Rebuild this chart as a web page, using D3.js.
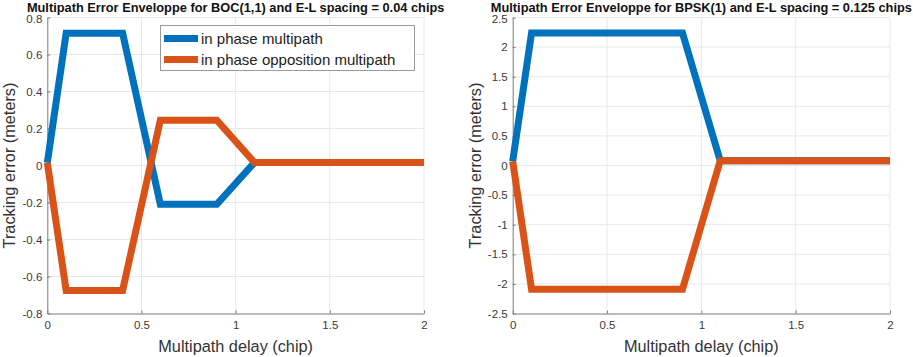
<!DOCTYPE html>
<html>
<head>
<meta charset="utf-8">
<script src="https://cdn.jsdelivr.net/npm/d3@7"></script>
<style>
  body { margin: 0; background: #fff; }
  svg { display: block; font-family: "Liberation Sans", Arial, sans-serif; }
</style>
</head>
<body>
<div id="chart"></div>
<script>
// Data
const delayBOC = [0, 0.1, 0.4, 0.6, 0.9, 1.1, 2];
const inPhaseBOC = [0.015, 0.715, 0.715, -0.21, -0.21, 0.016, 0.016];
const oppositionBOC = [0.015, -0.675, -0.675, 0.245, 0.245, 0.016, 0.016];
const yTicksBOC = [-0.8, -0.6, -0.4, -0.2, 0, 0.2, 0.4, 0.6, 0.8];

const delayBPSK = [0, 0.1, 0.9, 1.1, 2];
const inPhaseBPSK = [0.07, 2.24, 2.24, 0.08, 0.08];
const oppositionBPSK = [0.07, -2.09, -2.09, 0.08, 0.08];
const yTicksBPSK = [-2.5, -2, -1.5, -1, -0.5, 0, 0.5, 1, 1.5, 2, 2.5];

const xTicks = [0, 0.5, 1, 1.5, 2];
const seriesNames = ["in phase multipath", "in phase opposition multipath"];
const COLORS = ["#0072BD", "#D95319"];

const W = 913, H = 357;
const svg = d3.select("#chart").append("svg")
    .attr("width", W).attr("height", H);

// plain hyphen minus like the original
const fmt = d => String(d);

function drawPanel(opt) {
    const x = d3.scaleLinear().domain([0, 2]).range([opt.left, opt.right]);
    const y = d3.scaleLinear().domain(opt.yDomain).range([313.5, 17.5]);
    const g = svg.append("g");

    // grid
    g.selectAll(".vgrid").data(xTicks.slice(1)).join("line")
        .attr("x1", d => x(d)).attr("x2", d => x(d))
        .attr("y1", y.range()[0]).attr("y2", y.range()[1])
        .attr("stroke", "#e8e8e8").attr("stroke-width", 1);
    g.selectAll(".hgrid").data(opt.yTicks.slice(1)).join("line")
        .attr("x1", x(0)).attr("x2", x(2))
        .attr("y1", d => y(d)).attr("y2", d => y(d))
        .attr("stroke", "#e8e8e8").attr("stroke-width", 1);

    // axes
    const xAxis = g.append("g")
        .attr("transform", `translate(0,${y.range()[0]})`)
        .call(d3.axisBottom(x).tickValues(xTicks).tickSizeInner(-3).tickSizeOuter(0)
            .tickPadding(7).tickFormat(fmt));
    const yAxis = g.append("g")
        .attr("transform", `translate(${x(0)},0)`)
        .call(d3.axisLeft(y).tickValues(opt.yTicks).tickSizeInner(-3).tickSizeOuter(0)
            .tickPadding(5).tickFormat(fmt));
    [xAxis, yAxis].forEach(a => {
        a.select(".domain").attr("stroke", "#7a7a7a");
        a.selectAll(".tick line").attr("stroke", "#7a7a7a");
        a.selectAll(".tick text").attr("fill", "#3a3a3a")
            .style("font-size", "11.5px");
    });
    // keep the top label clear of the title
    yAxis.selectAll(".tick text").filter(d => d === opt.yDomain[1]).attr("dy", "0.45em");

    // lines
    const line = d3.line().x((d, i) => x(opt.xs[i])).y(d => y(d));
    [opt.inPhase, opt.opposition].forEach((vals, i) => {
        g.append("path")
            .attr("d", line(vals))
            .attr("fill", "none")
            .attr("stroke", COLORS[i])
            .attr("stroke-width", 7)
            .attr("stroke-linejoin", "miter");
    });

    // title
    g.append("text")
        .attr("x", (opt.left + opt.right) / 2).attr("y", 12)
        .attr("text-anchor", "middle")
        .style("font-size", "12.8px").style("font-weight", "bold")
        .attr("fill", "#111")
        .text(opt.title);

    // axis labels
    g.append("text")
        .attr("x", (opt.left + opt.right) / 2).attr("y", 352)
        .attr("text-anchor", "middle")
        .style("font-size", "16.3px").attr("fill", "#333")
        .text("Multipath delay (chip)");
    g.append("text")
        .attr("transform", `translate(${opt.left - 32},165.5) rotate(-90)`)
        .attr("text-anchor", "middle")
        .style("font-size", "16.3px").attr("fill", "#333")
        .text("Tracking error (meters)");

    return { x, y, g };
}

drawPanel({
    left: 47.3, right: 424, yDomain: [-0.8, 0.8], yTicks: yTicksBOC,
    xs: delayBOC, inPhase: inPhaseBOC, opposition: oppositionBOC,
    title: "Multipath Error Enveloppe for BOC(1,1) and E-L spacing = 0.04 chips"
});
drawPanel({
    left: 512.7, right: 890, yDomain: [-2.5, 2.5], yTicks: yTicksBPSK,
    xs: delayBPSK, inPhase: inPhaseBPSK, opposition: oppositionBPSK,
    title: "Multipath Error Enveloppe for BPSK(1) and E-L spacing = 0.125 chips"
});

// legend (left panel only)
const lg = svg.append("g");
lg.append("rect")
    .attr("x", 160.5).attr("y", 25.5).attr("width", 254).attr("height", 45)
    .attr("fill", "#fff").attr("stroke", "#9a9a9a").attr("stroke-width", 1);
seriesNames.forEach((name, i) => {
    const yy = 38.5 + i * 21;
    lg.append("line")
        .attr("x1", 164).attr("x2", 198).attr("y1", yy).attr("y2", yy)
        .attr("stroke", COLORS[i]).attr("stroke-width", 7);
    lg.append("text")
        .attr("x", 201).attr("y", yy + 5.5)
        .style("font-size", "15px").attr("fill", "#222")
        .text(name);
});
</script>
</body>
</html>
